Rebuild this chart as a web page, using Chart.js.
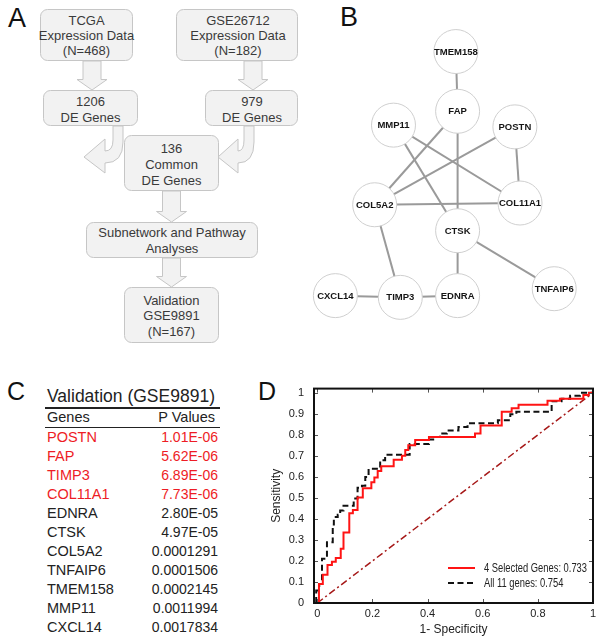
<!DOCTYPE html>
<html><head><meta charset="utf-8">
<script src="https://cdn.jsdelivr.net/npm/chart.js@4.4.1/dist/chart.umd.min.js"></script>
<style>
html,body{margin:0;padding:0;background:#fff;width:602px;height:644px;overflow:hidden;font-family:"Liberation Sans",Arial,Helvetica,sans-serif;}
.pl{position:absolute;line-height:1;color:#111;}
#flow{position:absolute;left:0;top:0;}
#netWrap{position:absolute;left:285px;top:0;width:317px;height:342px;}
#rocWrap{position:absolute;left:262px;top:372px;width:340px;height:272px;}
#tbl{position:absolute;left:0;top:0;width:602px;height:644px;}
.tt{position:absolute;white-space:nowrap;}
.rule{position:absolute;background:#222;}
</style>
</head><body>
<div class="pl" style="left:8px;top:4.5px;font-size:27px;">A</div>
<div class="pl" style="left:340px;top:4px;font-size:27px;">B</div>
<div class="pl" style="left:7px;top:378.5px;font-size:25px;">C</div>
<div class="pl" style="left:258px;top:379px;font-size:25px;">D</div>

<svg id="flow" width="300" height="350" viewBox="0 0 300 350">
<g fill="#f2f2f2" stroke="#c6c6c6" stroke-width="1">
 <rect x="40.5" y="9.5" width="92" height="51" rx="7"/>
 <rect x="176.5" y="9.5" width="121" height="51" rx="7"/>
 <rect x="43.5" y="90.5" width="94" height="35" rx="7"/>
 <rect x="205.5" y="90.5" width="92" height="35" rx="7"/>
 <rect x="124.5" y="135.5" width="94" height="55" rx="7"/>
 <rect x="86.5" y="222.5" width="171" height="35" rx="7"/>
 <rect x="124.5" y="287.5" width="94" height="55" rx="7"/>
 <path d="M83 61 L101 61 L101 79.5 L107 79.5 L92 90 L77 79.5 L83 79.5 Z"/>
 <path d="M244 61 L262 61 L262 79.5 L268 79.5 L253 90 L238 79.5 L244 79.5 Z"/>
 <path d="M162.5 191 L180.5 191 L180.5 211.5 L186.5 211.5 L171.5 222 L156.5 211.5 L162.5 211.5 Z"/>
 <path d="M162.5 258 L180.5 258 L180.5 276.5 L186.5 276.5 L171.5 287 L156.5 276.5 L162.5 276.5 Z"/>
 <path d="M123 126 L123 142 Q123 163 105 163 L105 173 L84 157 L105 139 L105 151 Q113 151 113 140 L113 126 Z"/>
 <path d="M254 126 L254 142 Q254 163 238 163 L238 173 L218 157 L238 139 L238 151 Q244 151 244 140 L244 126 Z"/>
</g>
<g font-family="Liberation Sans, Arial, sans-serif" font-size="13" fill="#3a3a3a" text-anchor="middle">
 <text x="86.5" y="24.6">TCGA</text>
 <text x="86.5" y="39.6">Expression Data</text>
 <text x="86.5" y="54.6">(N=468)</text>
 <text x="238" y="24.6">GSE26712</text>
 <text x="238" y="39.6">Expression Data</text>
 <text x="238" y="54.6">(N=182)</text>
 <text x="90.5" y="105.6">1206</text>
 <text x="90.5" y="121.6">DE Genes</text>
 <text x="252" y="105.6">979</text>
 <text x="252" y="121.6">DE Genes</text>
 <text x="171.5" y="152.6">136</text>
 <text x="171.5" y="168.6">Common</text>
 <text x="171.5" y="184.6">DE Genes</text>
 <text x="172" y="236.6">Subnetwork and Pathway</text>
 <text x="172" y="252.6">Analyses</text>
 <text x="171.5" y="304.6">Validation</text>
 <text x="171.5" y="319.6">GSE9891</text>
 <text x="171.5" y="335.6">(N=167)</text>
</g>
</svg>

<div id="tbl"></div>
<div id="netWrap"><canvas id="net" width="317" height="342"></canvas></div>
<div id="rocWrap"><canvas id="roc" width="340" height="272"></canvas></div>

<script>
// ---------- Panel C data ----------
const tableTitle = 'Validation (GSE9891)';
const tableHeaders = ['Genes', 'P Values'];
const genes = ['POSTN','FAP','TIMP3','COL11A1','EDNRA','CTSK','COL5A2','TNFAIP6','TMEM158','MMP11','CXCL14'];
const pValues = ['1.01E-06','5.62E-06','6.89E-06','7.73E-06','2.80E-05','4.97E-05','0.0001291','0.0001506','0.0002145','0.0011994','0.0017834'];
const selectedGenes = ['POSTN','FAP','TIMP3','COL11A1'];

// ---------- Panel B data (network) ----------
const nodeNames = ['TMEM158','FAP','MMP11','POSTN','COL5A2','COL11A1','CTSK','CXCL14','TIMP3','EDNRA','TNFAIP6'];
const nodeX = [458, 460, 385, 527, 363, 533, 460, 317, 393, 460, 573];
const nodeY = [33, 102, 118, 120, 210, 208, 240, 315, 317, 315, 307];
const edgeFrom = ['TMEM158','FAP','FAP','POSTN','POSTN','MMP11','MMP11','COL5A2','COL5A2','CTSK','CTSK','CXCL14','TIMP3'];
const edgeTo   = ['FAP','CTSK','COL5A2','COL5A2','COL11A1','COL11A1','CTSK','COL11A1','TIMP3','EDNRA','TNFAIP6','TIMP3','EDNRA'];

// ---------- Panel D data (ROC) ----------
const fprSel = [0, 0.006, 0.020, 0.037, 0.053, 0.067, 0.085, 0.095, 0.116, 0.129, 0.146, 0.165, 0.196, 0.207, 0.219, 0.232, 0.277, 0.307, 0.319, 0.330, 0.355, 0.405, 0.572, 0.592, 0.669, 0.705, 0.730, 0.835, 0.880, 0.965, 0.985, 1.0];
const tprSel = [0, 0.090, 0.134, 0.181, 0.196, 0.214, 0.258, 0.335, 0.427, 0.443, 0.502, 0.546, 0.574, 0.597, 0.628, 0.651, 0.682, 0.700, 0.728, 0.751, 0.775, 0.790, 0.806, 0.845, 0.910, 0.926, 0.943, 0.962, 0.972, 0.990, 1.0, 1.0];
const fprAll = [-0.004, -0.004, 0.007, 0.017, 0.035, 0.056, 0.060, 0.074, 0.083, 0.095, 0.132, 0.146, 0.162, 0.174, 0.186, 0.228, 0.246, 0.335, 0.405, 0.425, 0.445, 0.470, 0.512, 0.545, 0.655, 0.700, 0.722, 0.850, 0.886, 0.917, 0.953, 1.0];
const tprAll = [0, 0.060, 0.090, 0.211, 0.289, 0.373, 0.409, 0.420, 0.440, 0.463, 0.497, 0.548, 0.558, 0.600, 0.639, 0.679, 0.705, 0.756, 0.778, 0.790, 0.806, 0.821, 0.837, 0.855, 0.870, 0.898, 0.910, 0.960, 0.972, 0.986, 1.0, 1.0];
const diagX = [0, 1];
const diagY = [0, 1];
const seriesLabels = ['4 Selected Genes: 0.733', 'All 11 genes: 0.754'];
const xTicks = [0, 0.2, 0.4, 0.6, 0.8, 1];
const yTicks = [0, 0.1, 0.2, 0.3, 0.4, 0.5, 0.6, 0.7, 0.8, 0.9, 1];
const xTitle = '1- Specificity';
const yTitle = 'Sensitivity';

const FONT = '"Liberation Sans", Arial, Helvetica, sans-serif';
const RED = '#ee1c25';

// ---------- build table (C) ----------
(function(){
  const t = document.getElementById('tbl');
  const R = 602 - 218;
  let h = '';
  h += `<div class="tt" style="left:47px;top:386px;font-size:17.5px;line-height:20px;color:#222">${tableTitle}</div>`;
  h += `<div class="rule" style="left:45px;top:407px;width:175px;height:1.5px"></div>`;
  h += `<div class="tt" style="left:47px;top:408px;font-size:14.5px;line-height:19px;color:#222">${tableHeaders[0]}</div>`;
  h += `<div class="tt" style="right:${R+3}px;top:408px;font-size:14.5px;line-height:19px;color:#222">${tableHeaders[1]}</div>`;
  h += `<div class="rule" style="left:45px;top:426.5px;width:175px;height:1px"></div>`;
  genes.forEach((g,i)=>{
    const top = 427.5 + i*19.05;
    const c = selectedGenes.includes(g) ? RED : '#222';
    h += `<div class="tt" style="left:47px;top:${top}px;font-size:14.5px;line-height:19px;color:${c}">${g}</div>`;
    h += `<div class="tt" style="right:${R}px;top:${top}px;font-size:14px;line-height:19px;color:${c}">${pValues[i]}</div>`;
  });
  t.innerHTML = h;
})();

// ---------- network chart (B) ----------
(function(){
  const idx = n => nodeNames.indexOf(n);
  const nodeData = nodeNames.map((n,i)=>({x:nodeX[i], y:nodeY[i]}));
  const edgeSets = edgeFrom.map((f,i)=>({
    data:[{x:nodeX[idx(f)], y:nodeY[idx(f)]},{x:nodeX[idx(edgeTo[i])], y:nodeY[idx(edgeTo[i])]}],
    showLine:true, borderColor:'#9a9a9a', borderWidth:2, pointRadius:0, order:1, clip:false
  }));
  const labelPlugin = {
    id:'nodeLabels',
    afterDatasetsDraw(chart){
      const meta = chart.getDatasetMeta(0);
      const ctx = chart.ctx;
      ctx.save();
      ctx.font = 'bold 9.5px ' + FONT;
      ctx.fillStyle = '#151515';
      ctx.textAlign = 'center';
      ctx.textBaseline = 'middle';
      meta.data.forEach((el,i)=>{ ctx.fillText(nodeNames[i], el.x, el.y+0.5); });
      ctx.restore();
    }
  };
  new Chart(document.getElementById('net'), {
    type:'scatter',
    data:{datasets:[
      {data:nodeData, pointRadius:22, pointBackgroundColor:'#fff', pointBorderColor:'#cfcfcf', pointBorderWidth:1, order:0, clip:false},
      ...edgeSets
    ]},
    options:{
      responsive:false, animation:false, events:[],
      layout:{padding:0},
      plugins:{legend:{display:false}, tooltip:{enabled:false}},
      scales:{
        x:{type:'linear', min:285, max:602, display:false},
        y:{type:'linear', min:0, max:342, reverse:true, display:false}
      }
    },
    plugins:[labelPlugin]
  });
})();

// ---------- ROC chart (D) ----------
(function(){
  const zip = (a,b)=>a.map((v,i)=>({x:v, y:b[i]}));
  const framePlugin = {
    id:'frame',
    afterDatasetsDraw(chart){
      const {ctx, chartArea:a, scales:{x,y}} = chart;
      ctx.save();
      ctx.strokeStyle = '#555'; ctx.lineWidth = 1;
      ctx.beginPath();
      xTicks.forEach(v=>{ const px = Math.round(x.getPixelForValue(v))+0.5;
        ctx.moveTo(px,a.bottom); ctx.lineTo(px,a.bottom-4);
        ctx.moveTo(px,a.top); ctx.lineTo(px,a.top+4); });
      yTicks.forEach(v=>{ const py = Math.round(y.getPixelForValue(v))+0.5;
        ctx.moveTo(a.left,py); ctx.lineTo(a.left+4,py);
        ctx.moveTo(a.right,py); ctx.lineTo(a.right-4,py); });
      ctx.stroke();
      ctx.strokeStyle = '#111'; ctx.lineWidth = 2;
      ctx.strokeRect(a.left, a.top, a.right-a.left, a.bottom-a.top);
      // legend (condensed text)
      const ds = chart.data.datasets;
      ctx.font = '12px ' + FONT;
      ctx.textBaseline = 'middle'; ctx.textAlign = 'left';
      [0,1].forEach(i=>{
        const yy = a.bottom - 35 + i*15;
        ctx.strokeStyle = ds[i].borderColor; ctx.lineWidth = 2;
        ctx.setLineDash(ds[i].borderDash || []);
        ctx.beginPath(); ctx.moveTo(a.right-145, yy); ctx.lineTo(a.right-118, yy); ctx.stroke();
        ctx.setLineDash([]);
        ctx.fillStyle = '#222';
        ctx.save();
        ctx.translate(a.right-109, yy+0.5);
        ctx.scale(0.78, 1);
        ctx.fillText(ds[i].label, 0, 0);
        ctx.restore();
      });
      ctx.restore();
    }
  };
  new Chart(document.getElementById('roc'), {
    type:'scatter',
    data:{datasets:[
      {label:seriesLabels[0], data:zip(fprSel,tprSel), showLine:true, stepped:'before', borderColor:'#ff1414', borderWidth:2, pointRadius:0, fill:false},
      {label:seriesLabels[1], data:zip(fprAll,tprAll), showLine:true, stepped:'before', borderColor:'#111', borderWidth:2, borderDash:[6,3.5], pointRadius:0, fill:false},
      {label:'diagonal', data:zip(diagX,diagY), showLine:true, borderColor:'#a61818', borderWidth:1.5, borderDash:[7,3,2,3], pointRadius:0, fill:false}
    ]},
    options:{
      responsive:false, animation:false, events:[],
      layout:{padding:{left:0, right:9, top:11, bottom:0}},
      plugins:{legend:{display:false}, tooltip:{enabled:false}},
      scales:{
        x:{type:'linear', min:-0.012, max:1.0,
           afterBuildTicks:s=>{ s.ticks = xTicks.map(v=>({value:v})); },
           afterFit:s=>{ s.height = 41; },
           grid:{display:false, drawTicks:false}, border:{display:false},
           ticks:{padding:4, autoSkip:false, maxRotation:0, color:'#222', font:{size:11, family:FONT}, callback:v=>String(v)},
           title:{display:true, text:xTitle, color:'#222', font:{size:12, family:FONT}, padding:{top:0, bottom:7}}},
        y:{type:'linear', min:0, max:1.02,
           afterBuildTicks:s=>{ s.ticks = yTicks.map(v=>({value:v})); },
           afterFit:s=>{ s.width = 52; },
           grid:{display:false, drawTicks:false}, border:{display:false},
           ticks:{padding:10, autoSkip:false, color:'#222', font:{size:11, family:FONT}, callback:v=>String(v)},
           title:{display:true, text:yTitle, color:'#222', font:{size:12, family:FONT}, padding:{top:7, bottom:0}}}
      }
    },
    plugins:[framePlugin]
  });
})();
</script>
</body></html>
